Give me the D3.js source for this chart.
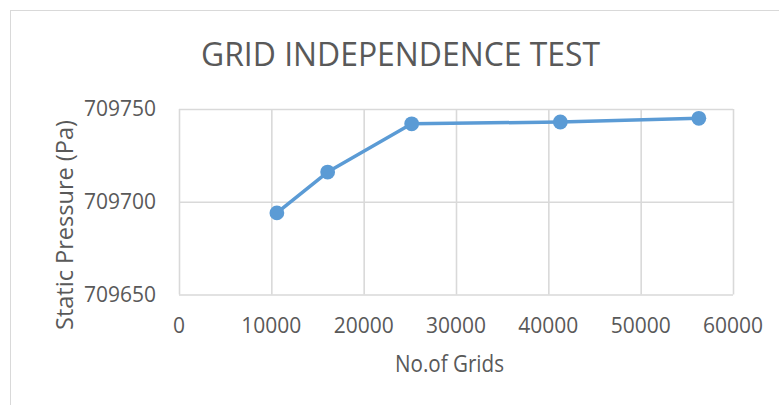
<!DOCTYPE html>
<html><head><meta charset="utf-8">
<script src="https://cdn.jsdelivr.net/npm/d3@7"></script>
<style>body{margin:0;background:#fff}svg{display:block}</style>
</head><body>
<script>
const gridCounts = [10600, 16100, 25200, 41300, 56300];
const pressures = [709694, 709716, 709742, 709743, 709745];
const xTicks = [0, 10000, 20000, 30000, 40000, 50000, 60000];
const yTicks = [709650, 709700, 709750];
const title = "GRID INDEPENDENCE TEST";
const xTitle = "No.of Grids";
const yTitle = "Static Pressure (Pa)";

const W = 779, H = 405;
const m = {left: 179, right: 733, top: 109, bottom: 294.5};
const font = "'Open Sans', 'Noto Sans', sans-serif";
const textColor = "#595959";
const gridColor = "#d9d9d9";

const svg = d3.select("body").append("svg").attr("width", W).attr("height", H);
svg.append("rect").attr("x", 10.5).attr("y", 10.5).attr("width", W + 10).attr("height", H + 10)
  .attr("fill", "#fff").attr("stroke", "#d9d9d9").attr("stroke-width", 1);

const x = d3.scaleLinear().domain([0, 60000]).range([m.left, m.right]);
const y = d3.scaleLinear().domain([709650, 709750]).range([m.bottom, m.top]);

// gridlines
const gx = svg.append("g").attr("transform", `translate(0,${m.bottom})`)
  .call(d3.axisBottom(x).tickValues(xTicks).tickSize(-(m.bottom - m.top)).tickFormat(""));
const gy = svg.append("g").attr("transform", `translate(${m.left},0)`)
  .call(d3.axisLeft(y).tickValues(yTicks).tickSize(-(m.right - m.left)).tickFormat(""));
[gx, gy].forEach(g => {
  g.select(".domain").remove();
  g.selectAll("line").attr("stroke", gridColor).attr("stroke-width", 1.6);
});

// tick labels
svg.append("g").selectAll("text").data(xTicks).join("text")
  .attr("x", d => x(d)).attr("y", 333).attr("text-anchor", "middle")
  .attr("font-family", font).attr("font-size", 21).attr("fill", textColor)
  .text(d => d);
svg.append("g").selectAll("text").data(yTicks).join("text")
  .attr("x", 156).attr("y", d => y(d) + 7).attr("text-anchor", "end")
  .attr("font-family", font).attr("font-size", 21).attr("fill", textColor)
  .text(d => d);

// titles
svg.append("text").attr("x", 201).attr("y", 66).attr("textLength", 399).attr("lengthAdjust", "spacingAndGlyphs")
  .attr("font-family", font).attr("font-size", 32).attr("fill", textColor).text(title);
svg.append("text").attr("x", 395).attr("y", 372).attr("textLength", 109).attr("lengthAdjust", "spacingAndGlyphs")
  .attr("font-family", font).attr("font-size", 23.5).attr("fill", textColor).text(xTitle);
svg.append("text").attr("transform", `translate(73,330) rotate(-90)`)
  .attr("textLength", 210).attr("lengthAdjust", "spacingAndGlyphs")
  .attr("font-family", font).attr("font-size", 23).attr("fill", textColor).text(yTitle);

// series
const data = gridCounts.map((g, i) => ({g, p: pressures[i]}));
svg.append("path").datum(data)
  .attr("d", d3.line().x(d => x(d.g)).y(d => y(d.p)))
  .attr("fill", "none").attr("stroke", "#5b9bd5").attr("stroke-width", 3.5)
  .attr("stroke-linejoin", "round");
svg.append("g").selectAll("circle").data(data).join("circle")
  .attr("cx", d => x(d.g)).attr("cy", d => y(d.p)).attr("r", 7.4)
  .attr("fill", "#5b9bd5");
</script>
</body></html>
